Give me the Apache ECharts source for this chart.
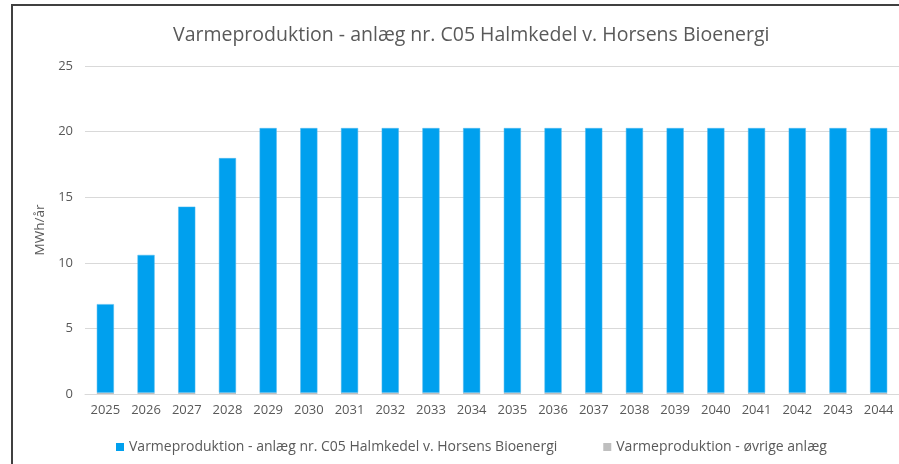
<!DOCTYPE html>
<html>
<head>
<meta charset="utf-8">
<script src="https://cdn.jsdelivr.net/npm/echarts@6/dist/echarts.min.js"></script>
<style>
  html, body { margin: 0; padding: 0; background: #fff; }
  #chart { width: 899px; height: 464px; }
</style>
</head>
<body>
<div id="chart"></div>
<script>
// data
var years = ['2025', '2026', '2027', '2028', '2029', '2030', '2031', '2032', '2033', '2034',
             '2035', '2036', '2037', '2038', '2039', '2040', '2041', '2042', '2043', '2044'];
var halmkedel = [6.75, 10.5, 14.18, 17.88, 20.17, 20.17, 20.17, 20.17, 20.17, 20.17,
                 20.17, 20.17, 20.17, 20.17, 20.17, 20.17, 20.17, 20.17, 20.17, 20.17];
var oevrige = [0.1, 0.1, 0.1, 0.1, 0.1, 0.1, 0.1, 0.1, 0.1, 0.1,
               0.1, 0.1, 0.1, 0.1, 0.1, 0.1, 0.1, 0.1, 0.1, 0.1];
var yTicks = [0, 5, 10, 15, 20, 25];

var nameA = 'Varmeproduktion - anlæg nr. C05 Halmkedel v. Horsens Bioenergi';
var nameB = 'Varmeproduktion - øvrige anlæg';
var font = 'Open Sans';
var textCol = '#595959';

var myChart = echarts.init(document.getElementById('chart'));
var option = {
    animation: false,
    textStyle: { fontFamily: font },
    title: {
        text: 'Varmeproduktion - anlæg nr. C05 Halmkedel v. Horsens Bioenergi',
        left: 168,
        top: 20,
        textStyle: { fontFamily: font, fontSize: 19.5, fontWeight: 'normal', color: textCol }
    },
    graphic: [{
        type: 'rect',
        shape: { x: 12, y: 5, width: 1000, height: 1000 },
        style: { fill: 'none', stroke: '#404040', lineWidth: 2 },
        silent: true
    }],
    legend: {
        bottom: 5,
        left: 111,
        itemWidth: 8,
        itemHeight: 8,
        itemGap: 46,
        icon: 'rect',
        itemStyle: { borderWidth: 0 },
        data: [nameA, nameB],
        textStyle: { fontFamily: font, fontSize: 14, color: textCol }
    },
    grid: { left: 85, right: -1, top: 66, bottom: 70, containLabel: false },
    xAxis: {
        type: 'category',
        data: years,
        axisLine: { lineStyle: { color: '#d9d9d9', width: 1 } },
        axisTick: { show: false },
        axisLabel: { color: textCol, fontSize: 13, margin: 10, fontFamily: font }
    },
    yAxis: {
        type: 'value',
        min: yTicks[0],
        max: yTicks[yTicks.length - 1],
        interval: 5,
        name: 'MWh/år',
        nameLocation: 'middle',
        nameGap: 28,
        nameTextStyle: { color: textCol, fontSize: 13.5, fontFamily: font },
        axisLine: { show: false },
        axisTick: { show: false },
        axisLabel: { color: textCol, fontSize: 13, margin: 12, fontFamily: font },
        splitLine: { lineStyle: { color: '#d9d9d9', width: 1 } }
    },
    series: [
        {
            name: nameB,
            type: 'bar',
            stack: 'total',
            data: oevrige,
            barWidth: '42%',
            itemStyle: { color: '#bfbfbf' }
        },
        {
            name: nameA,
            type: 'bar',
            stack: 'total',
            data: halmkedel,
            barWidth: '42%',
            itemStyle: { color: '#00a0ee', borderColor: '#4db8ee', borderWidth: 0.5 }
        }
    ]
};
myChart.setOption(option, true);
</script>
</body>
</html>
